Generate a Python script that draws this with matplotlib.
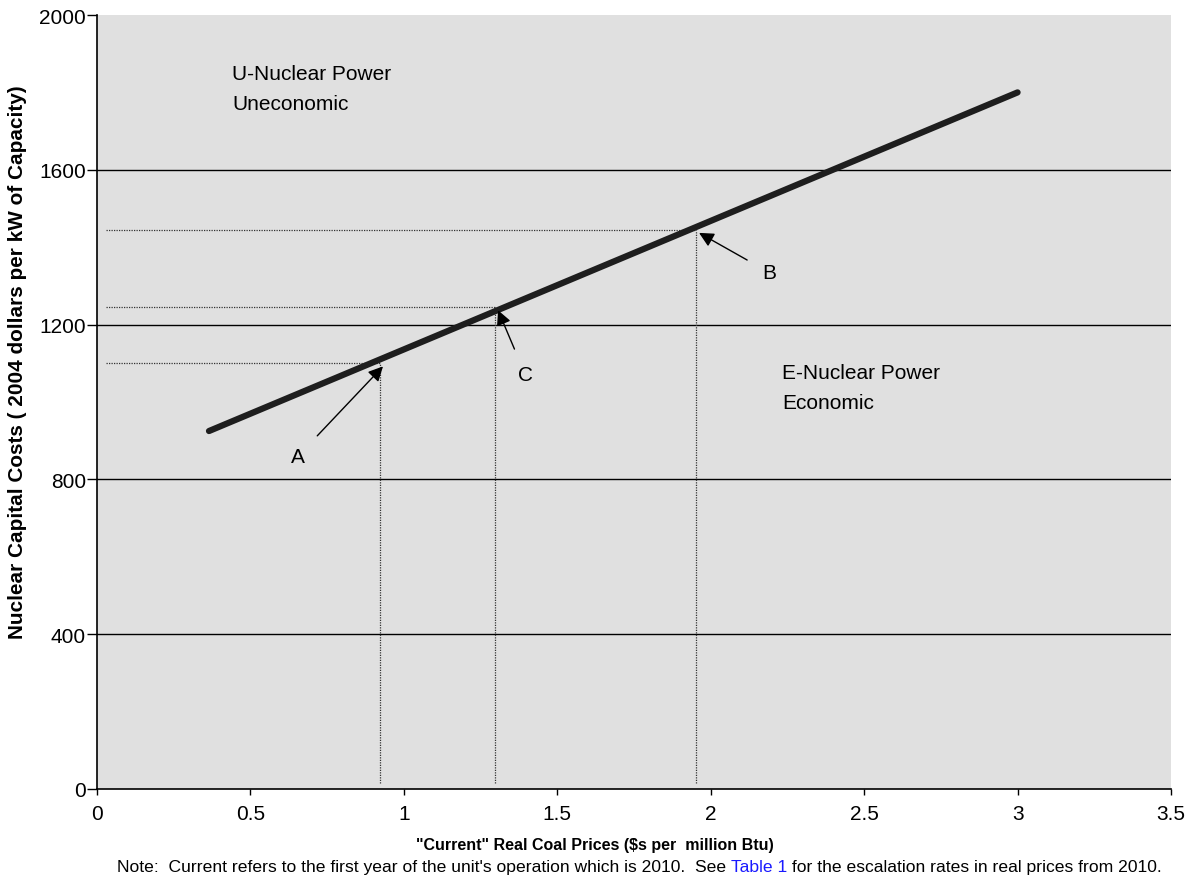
import matplotlib.pyplot as plt
from matplotlib import font_manager

plt.rcParams['font.family'] = ['Liberation Sans', 'DejaVu Sans']

# break-even line: coal price vs nuclear capital cost
coal_price = [0.365, 3.0]
nuclear_cost = [925, 1800]

# marked points A, C, B
point_names = ['A', 'C', 'B']
point_x = [0.922, 1.297, 1.952]
point_y = [1100, 1245, 1445]
label_x = [0.655, 1.395, 2.19]
label_y = [860, 1072, 1335]

x_ticks = [0, 0.5, 1, 1.5, 2, 2.5, 3, 3.5]
x_tick_labels = ['0', '0.5', '1', '1.5', '2', '2.5', '3', '3.5']
y_ticks = [0, 400, 800, 1200, 1600, 2000]

W, H = 1199, 879


def fit_text(t, target, renderer, vertical=False):
    # shrink/grow font so the text spans the target length in pixels
    for _ in range(3):
        bb = t.get_window_extent(renderer)
        size = bb.height if vertical else bb.width
        t.set_fontsize(t.get_fontsize() * target / size)


try:
    font_manager.findfont('Liberation Sans Narrow', fallback_to_default=False)
    narrow = ['Liberation Sans Narrow', 'Liberation Sans']
except Exception:
    narrow = ['Liberation Sans']

fig = plt.figure(figsize=(W / 100, H / 100), dpi=100)
ax = fig.add_axes([97/W, 1 - 790/H, (1171-97)/W, (790-16)/H])
ax.set_facecolor('#e0e0e0')
ax.set_xlim(0, 3.5)
ax.set_ylim(0, 2000)

for y in y_ticks[1:-1]:
    ax.axhline(y, color='black', lw=1.0, zorder=1)

# dotted guide lines
for px, py in zip(point_x, point_y):
    ax.plot([0.03, px], [py, py], color='#333333', lw=0.9, ls=(0, (1, 1)), zorder=2)
    ax.plot([px, px], [15, py], color='#333333', lw=0.9, ls=(0, (1, 1)), zorder=2)

ax.plot(coal_price, nuclear_cost, color='#1e1e1e', lw=4.5, solid_capstyle='round', zorder=3)

for name, px, py, lx, ly in zip(point_names, point_x, point_y, label_x, label_y):
    ax.annotate(name, xy=(px + 0.01, py - 8), xytext=(lx, ly),
                fontsize=15, ha='center', va='center', zorder=4,
                arrowprops=dict(arrowstyle='-|>', color='black', lw=1.0,
                                mutation_scale=22, shrinkA=10, shrinkB=0))

ax.text(232/W, 1 - 65/H, 'U-Nuclear Power\nUneconomic', fontsize=15, va='top',
        linespacing=1.75, transform=fig.transFigure)
ax.text(782/W, 1 - 364/H, 'E-Nuclear Power\nEconomic', fontsize=15, va='top',
        linespacing=1.75, transform=fig.transFigure)

ax.set_xticks(x_ticks)
ax.set_xticklabels(x_tick_labels)
ax.set_yticks(y_ticks)
ax.tick_params(axis='both', labelsize=15, width=1, direction='out')
ax.tick_params(axis='x', length=4, pad=7)
ax.tick_params(axis='y', length=7, pad=1)
for s in ['top', 'right']:
    ax.spines[s].set_visible(False)
for s in ['left', 'bottom']:
    ax.spines[s].set_linewidth(1.2)

fig.canvas.draw()
renderer = fig.canvas.get_renderer()

ylab = fig.text(18/W, 1 - 362/H, 'Nuclear Capital Costs ( 2004 dollars per kW of Capacity)',
                fontsize=15, fontweight='bold', family=narrow, rotation=90,
                ha='center', va='center')
fit_text(ylab, 552, renderer, vertical=True)

xlab = fig.text(595/W, 1 - 846/H, '"Current" Real Coal Prices ($s per  million Btu)',
                fontsize=11, fontweight='bold', ha='center', va='center')
fit_text(xlab, 356, renderer)

# note line with blue "Table 1"
parts = ["Note:  Current refers to the first year of the unit's operation which is 2010.  See ",
         'Table 1', ' for the escalation rates in real prices from 2010.']
colors = ['black', '#1a1aff', 'black']
note_size = 11
t = fig.text(0, 0, ''.join(parts), fontsize=note_size)
fit_text(t, 1043, renderer)
note_size = t.get_fontsize()
t.remove()
widths = []
for p in parts:
    t = fig.text(0, 0, p, fontsize=note_size)
    widths.append(t.get_window_extent(renderer).width)
    t.remove()
x0 = 117
for p, c, w in zip(parts, colors, widths):
    fig.text(x0 / W, 1 - 868/H, p, fontsize=note_size, color=c, va='center')
    x0 += w

fig.savefig('out.png', dpi=100)
